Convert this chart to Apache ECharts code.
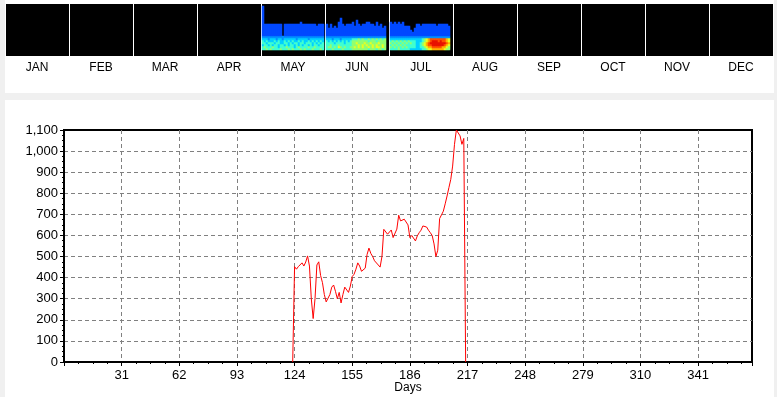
<!DOCTYPE html>
<html>
<head>
<meta charset="utf-8">
<script src="https://cdn.jsdelivr.net/npm/echarts@6/dist/echarts.min.js"></script>
<style>
  html, body { margin: 0; padding: 0; background: #f0f0f0; }
  #chart { width: 777px; height: 397px; }
</style>
</head>
<body>
<div id="chart"></div>
<script>
const monthLabels = ['JAN', 'FEB', 'MAR', 'APR', 'MAY', 'JUN', 'JUL', 'AUG', 'SEP', 'OCT', 'NOV', 'DEC']

// strip: months that have data (index into monthLabels)
const stripMonths = [4, 5, 6]

// top row reached by each day's column
const mayTop = [21, 12, 12, 12, 12, 12, 12, 12, 12, 12, 6, 12, 12, 12, 12, 12, 12, 12, 12, 13, 12, 12, 12, 12, 12, 12, 12, 11, 12, 12, 12]
const junTop = [12, 10, 12, 10, 11, 10, 13, 15, 12, 11, 12, 12, 12, 13, 11, 14, 12, 11, 12, 12, 13, 13, 12, 12, 11, 13, 11, 12, 10, 11]
const julTop = [13, 12, 13, 12, 13, 12, 13, 11, 11, 11, 9, 8, 10, 12, 12, 11, 12, 12, 12, 12, 12, 12, 12, 11, 12, 12, 12, 12, 12, 11]

// lower band levels (0-9), one string per row, top row first
const mayLow = [
  '3332333233233333323333323333333',
  '4343334343343434334343343434343',
  '4434443443344343443443444343434',
  '3443434434434344343434434344344',
  '4544454434445444345444454454444',
  '4454544445444545444545444544454',
]
const junLow = [
  '333233323333344454544545454545',
  '434343434343455555555455545555',
  '444434444344455655565565556555',
  '445444544444455565656556565565',
  '455454654544556565655656566565',
  '444544445444455555555455545545',
]
const julLow = [
  '333333333333333345678888888876',
  '454545454544433345678999898876',
  '545454545454433456789999999987',
  '454545454444433456788999999876',
  '545454545444433445677888887765',
  '444454444433333344566777777655',
]

const stripTops = [mayTop, junTop, julTop]
const stripLows = [mayLow, junLow, julLow]
const edgeLevel = 2
const blueLevel = 1

// daily values of the line, starting at lineStartDay
const lineStartDay = 123
const lineValues = [
  0, 452, 440, 452, 455, 470, 455, 474, 503, 455,
  300, 206, 300, 460, 475, 410, 376, 320, 285, 290,
  320, 355, 365, 335, 300, 330, 280, 320, 355, 350,
  330, 360, 405, 416, 440, 470, 455, 430, 430, 445,
  510, 540, 515, 500, 480, 485, 460, 450, 500, 629,
  620, 606, 613, 626, 590, 598, 630, 696, 669, 661,
  677, 685, 650, 590, 600, 598, 574, 598, 613, 625,
  645, 648, 640, 625, 613, 600, 560, 500, 530, 680,
  688, 715, 750, 787, 827, 866, 929, 1032, 1100, 1100,
  1072, 1032, 1060, 0,
]

const SLOTS = 32
const ROWS = 22

const cells = []
stripMonths.forEach((m, k) => {
  stripTops[k].forEach((top, d) => {
    for (let r = 0; r <= top; r++) {
      let v
      if (r <= 5) v = +stripLows[k][5 - r][d]
      else if (r === 6) v = edgeLevel
      else v = blueLevel
      cells.push([m * SLOTS + d, r, v])
    }
  })
})

const lineData = lineValues.map((v, i) => [lineStartDay + i, v])

const numFont = "'Liberation Sans Narrow', 'Arial Narrow', 'Liberation Sans', sans-serif"
const gridDash = { color: '#808080', width: 1, type: [4, 3] }

const chart = echarts.init(document.getElementById('chart'), null, { renderer: 'canvas' })

chart.setOption({
  backgroundColor: '#f0f0f0',
  animation: false,
  graphic: [
    { type: 'rect', z: -10, silent: true, shape: { x: 5, y: 0, width: 769, height: 93 }, style: { fill: '#fff' } },
    { type: 'rect', z: -10, silent: true, shape: { x: 5, y: 100, width: 769, height: 297 }, style: { fill: '#fff' } },
  ],
  visualMap: {
    show: false,
    seriesIndex: 0,
    min: 0,
    max: 9,
    inRange: {
      color: ['#0000c0', '#0048ff', '#0090ff', '#00d0ff', '#40ffd0', '#90ff70', '#e8ff20', '#ffb000', '#ff5000', '#e81000'],
    },
  },
  grid: [
    { left: 5, top: 4, width: 768, height: 52, show: true, backgroundColor: '#000', borderWidth: 0, outerBoundsMode: 'none' },
    { left: 6, top: 6, width: 768, height: 44, outerBoundsMode: 'none' },
    { left: 64, top: 130, right: 25, bottom: 35, show: true, backgroundColor: '#fff', borderColor: '#000', borderWidth: 2, outerBoundsMode: 'none' },
  ],
  xAxis: [
    {
      gridIndex: 0,
      type: 'category',
      data: monthLabels,
      boundaryGap: true,
      axisLine: { show: false },
      axisTick: { show: false },
      axisLabel: { color: '#000', fontSize: 12, margin: 6, fontFamily: "'Liberation Sans', Arial, sans-serif", interval: 0 },
      splitLine: { show: true, interval: 0, lineStyle: { color: '#fff', width: 1 } },
    },
    {
      gridIndex: 1,
      type: 'category',
      show: false,
      data: Array.from({ length: 12 * SLOTS }, (_, i) => i),
    },
    {
      gridIndex: 2,
      type: 'value',
      min: 0,
      max: 370,
      interval: 31,
      name: 'Days',
      nameLocation: 'middle',
      nameGap: 20,
      nameMoveOverlap: false,
      nameTextStyle: { color: '#000', fontSize: 12, fontFamily: "'Liberation Sans', Arial, sans-serif" },
      axisLine: { show: true, lineStyle: { color: '#000', width: 2 } },
      axisTick: { show: true, length: 4, lineStyle: { color: '#000' } },
      minorTick: { show: true, splitNumber: 4, length: 2, lineStyle: { color: '#000' } },
      axisLabel: { color: '#000', fontSize: 13, margin: 7, fontFamily: numFont, showMinLabel: false, showMaxLabel: false },
      splitLine: { show: true, showMinLine: false, showMaxLine: false, lineStyle: gridDash },
    },
  ],
  yAxis: [
    { gridIndex: 0, type: 'value', show: false, splitLine: { show: false } },
    {
      gridIndex: 1,
      type: 'category',
      show: false,
      data: Array.from({ length: ROWS }, (_, i) => i),
    },
    {
      gridIndex: 2,
      type: 'value',
      min: 0,
      max: 1100,
      interval: 100,
      axisLine: { show: true, lineStyle: { color: '#000', width: 2 } },
      axisTick: { show: true, length: 4, lineStyle: { color: '#000' } },
      minorTick: { show: true, splitNumber: 4, length: 2, lineStyle: { color: '#000' } },
      axisLabel: {
        color: '#000',
        fontSize: 13,
        margin: 6,
        fontFamily: numFont,
        formatter: (v) => v.toLocaleString('en-US'),
      },
      splitLine: { show: true, showMinLine: false, showMaxLine: false, lineStyle: gridDash },
    },
  ],
  series: [
    {
      type: 'heatmap',
      xAxisIndex: 1,
      yAxisIndex: 1,
      data: cells,
      itemStyle: { borderWidth: 0 },
      emphasis: { disabled: true },
    },
    {
      type: 'line',
      xAxisIndex: 2,
      yAxisIndex: 2,
      data: lineData,
      showSymbol: false,
      symbol: 'none',
      lineStyle: { color: '#ff0000', width: 1 },
      z: 5,
    },
  ],
})
</script>
</body>
</html>
